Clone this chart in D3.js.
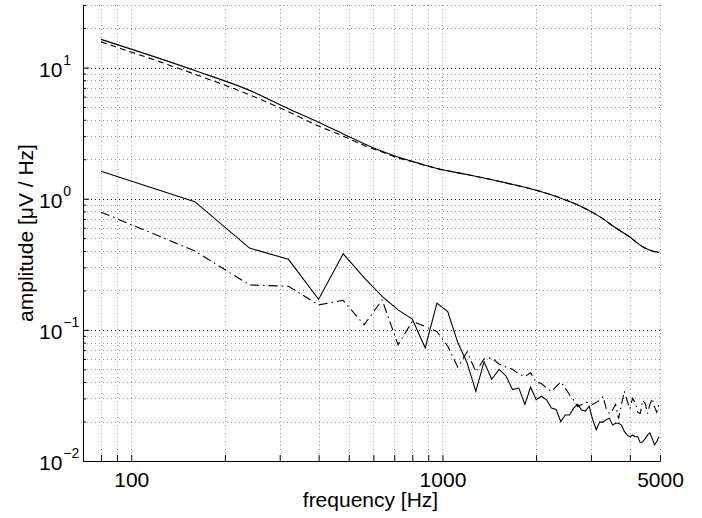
<!DOCTYPE html>
<html>
<head>
<meta charset="utf-8">
<script src="https://cdn.jsdelivr.net/npm/d3@7"></script>
<style>
  body { margin: 0; background: #fff; }
  text { font-family: "Liberation Sans", Arial, Helvetica, sans-serif; }
</style>
</head>
<body>
<svg></svg>
<script>
// frequency grid of the two noisy traces (Hz)
let freqs = [80, 160, 240, 320, 400, 480, 560, 640, 720, 800,
  880, 960, 1040, 1120, 1200, 1280, 1360, 1440, 1520, 1600,
  1680, 1760, 1840, 1920, 2000, 2080, 2160, 2240, 2320, 2400,
  2480, 2560, 2640, 2720, 2800, 2880, 2960, 3040, 3120, 3200,
  3280, 3360, 3440, 3520, 3600, 3680, 3760, 3840, 3920, 4000,
  4080, 4160, 4240, 4320, 4400, 4480, 4560, 4640, 4720, 4800,
  4880, 4960]

let lowerSolid = [1.62, 0.95, 0.42, 0.345, 0.171, 0.38, 0.25, 0.18, 0.142, 0.121,
  0.073, 0.16, 0.138, 0.08, 0.056, 0.034, 0.057, 0.042, 0.05, 0.0445,
  0.035, 0.036, 0.027, 0.0366, 0.0293, 0.0312, 0.0293, 0.0253, 0.0247, 0.0199,
  0.0224, 0.0224, 0.0253, 0.027, 0.0245, 0.024, 0.0262, 0.0206, 0.0173, 0.0198,
  0.0198, 0.0206, 0.0212, 0.0188, 0.0194, 0.0194, 0.0188, 0.0168, 0.0158, 0.0153,
  0.0158, 0.0153, 0.0153, 0.0138, 0.014, 0.0148, 0.0158, 0.0164, 0.0148, 0.0133,
  0.014, 0.0153]

let lowerDashDot = [0.79, 0.40, 0.22, 0.215, 0.155, 0.168, 0.109, 0.169, 0.077, 0.116,
  0.106, 0.097, 0.075, 0.052, 0.068, 0.048, 0.06, 0.061, 0.055, 0.052,
  0.05, 0.046, 0.044, 0.047, 0.04, 0.039, 0.036, 0.034, 0.037, 0.040,
  0.036, 0.032, 0.029, 0.026, 0.027, 0.028, 0.028, 0.027, 0.028, 0.029,
  0.031, 0.025, 0.023, 0.0245, 0.027, 0.021, 0.027, 0.034, 0.029, 0.025,
  0.03, 0.028, 0.0235, 0.023, 0.029, 0.0275, 0.023, 0.027, 0.03, 0.026,
  0.0235, 0.027]

// the two smooth upper traces
let freqsUpper = [80, 160, 240, 320, 400, 480, 560, 640, 720, 800, 880, 960,
  1200, 1600, 2000, 2400, 2800, 3200, 3600, 4000, 4200, 4400, 4600, 4800, 4960]
let upperSolid = [16.4, 9.5, 6.7, 4.86, 3.83, 3.12, 2.63, 2.3, 2.08, 1.93, 1.8, 1.7,
  1.53, 1.32, 1.16, 1.01, 0.87, 0.73, 0.6, 0.51, 0.465, 0.43, 0.408, 0.395, 0.39]
let upperDashed = [15.7, 8.9, 6.2, 4.6, 3.58, 3.0, 2.55, 2.27, 2.05, 1.92, 1.8, 1.7,
  1.53, 1.32, 1.16, 1.01, 0.87, 0.73, 0.6, 0.51, 0.465, 0.43, 0.408, 0.395, 0.39]

let xLabelTicks = [100, 1000, 5000]
let xMinor = [80, 90, 100, 200, 300, 400, 500, 600, 700, 800, 900, 1000, 2000, 3000, 4000, 5000]
let yMajor = [0.01, 0.1, 1, 10]
let yExponents = ['−2', '−1', '0', '1']
let yMinor = [0.02, 0.03, 0.04, 0.05, 0.06, 0.07, 0.08, 0.09,
  0.2, 0.3, 0.4, 0.5, 0.6, 0.7, 0.8, 0.9,
  2, 3, 4, 5, 6, 7, 8, 9, 20, 30]

let width = 702
let height = 518
let margin = {left: 83, right: 42, top: 5, bottom: 57}
let w = width - margin.left - margin.right
let h = height - margin.top - margin.bottom

let svg = d3.select('svg')
            .attr('width', width)
            .attr('height', height)

let g = svg.append('g').attr('transform', `translate(${margin.left},${margin.top})`)

let x = d3.scaleLog().domain([70, 5000]).range([0, w])
let y = d3.scaleLog().domain([0.01, 30]).range([h, 0])

// grid
g.selectAll('.vgrid')
    .data(xMinor)
    .enter()
    .append('line')
    .attr('x1', d => Math.round(x(d)) + 0.5).attr('x2', d => Math.round(x(d)) + 0.5)
    .attr('y1', 0).attr('y2', h)
    .attr('stroke', '#999')
    .attr('stroke-dasharray', '1,3')

g.selectAll('.hgrid')
    .data(yMinor)
    .enter()
    .append('line')
    .attr('x1', 0).attr('x2', w)
    .attr('y1', d => Math.round(y(d)) + 0.5).attr('y2', d => Math.round(y(d)) + 0.5)
    .attr('stroke', '#999')
    .attr('stroke-dasharray', '1,3')

g.selectAll('.hgridmajor')
    .data(yMajor.slice(1))
    .enter()
    .append('line')
    .attr('x1', 0).attr('x2', w)
    .attr('y1', d => Math.round(y(d)) + 0.5).attr('y2', d => Math.round(y(d)) + 0.5)
    .attr('stroke', '#000')
    .attr('stroke-dasharray', '1,3')

// axes
let xAxis = g.append('g')
    .attr('transform', `translate(0,${h})`)
    .call(d3.axisBottom(x).tickValues(xMinor).tickSize(-6).tickSizeOuter(0)
        .tickPadding(11).tickFormat(d => xLabelTicks.includes(d) ? d : ''))

let yAxisMinor = g.append('g')
    .call(d3.axisLeft(y).tickValues(yMinor).tickSize(-3).tickSizeOuter(0).tickFormat(''))

let yAxis = g.append('g')
    .call(d3.axisLeft(y).tickValues(yMajor).tickSize(-6).tickSizeOuter(0)
        .tickPadding(5).tickFormat(''))

// matlab puts the 10^n labels flush left
yAxis.selectAll('.tick text')
    .attr('x', -44)
    .attr('text-anchor', 'start')
    .attr('dy', '0.42em')
    .each(function(d, i) {
        let t = d3.select(this)
        t.append('tspan').text('10')
        t.append('tspan').attr('dx', 1).attr('dy', -12).attr('font-size', 14).text(yExponents[i])
    })

svg.selectAll('.domain').attr('stroke', '#000')
svg.selectAll('.tick line').attr('stroke', '#000')
svg.selectAll('.tick text').attr('font-size', 21).attr('fill', '#000')
    .style('font-family', '"Liberation Sans", Arial, sans-serif')

// traces
let line = d3.line()
    .x(d => x(d[0]))
    .y(d => y(d[1]))

let smooth = d3.line()
    .x(d => x(d[0]))
    .y(d => y(d[1]))
    .curve(d3.curveMonotoneX)

g.append('path')
    .attr('d', smooth(d3.zip(freqsUpper, upperSolid)))
    .attr('fill', 'none').attr('stroke', '#000').attr('stroke-width', 1.1)

g.append('path')
    .attr('d', smooth(d3.zip(freqsUpper, upperDashed)))
    .attr('fill', 'none').attr('stroke', '#000').attr('stroke-width', 1.1)
    .attr('stroke-dasharray', '6,4')

g.append('path')
    .attr('d', line(d3.zip(freqs, lowerSolid)))
    .attr('fill', 'none').attr('stroke', '#000').attr('stroke-width', 1.1)

g.append('path')
    .attr('d', line(d3.zip(freqs, lowerDashDot)))
    .attr('fill', 'none').attr('stroke', '#000').attr('stroke-width', 1.1)
    .attr('stroke-dasharray', '9,4,1.5,4')

// axis titles
svg.append('text')
    .attr('x', margin.left + w / 2 - 1)
    .attr('y', 507)
    .attr('text-anchor', 'middle')
    .attr('font-size', 21)
    .text('frequency [Hz]')

svg.append('text')
    .attr('transform', `translate(33,${margin.top + h / 2}) rotate(-90)`)
    .attr('text-anchor', 'middle')
    .attr('font-size', 21)
    .text('amplitude [μV / Hz]')
</script>
</body>
</html>
